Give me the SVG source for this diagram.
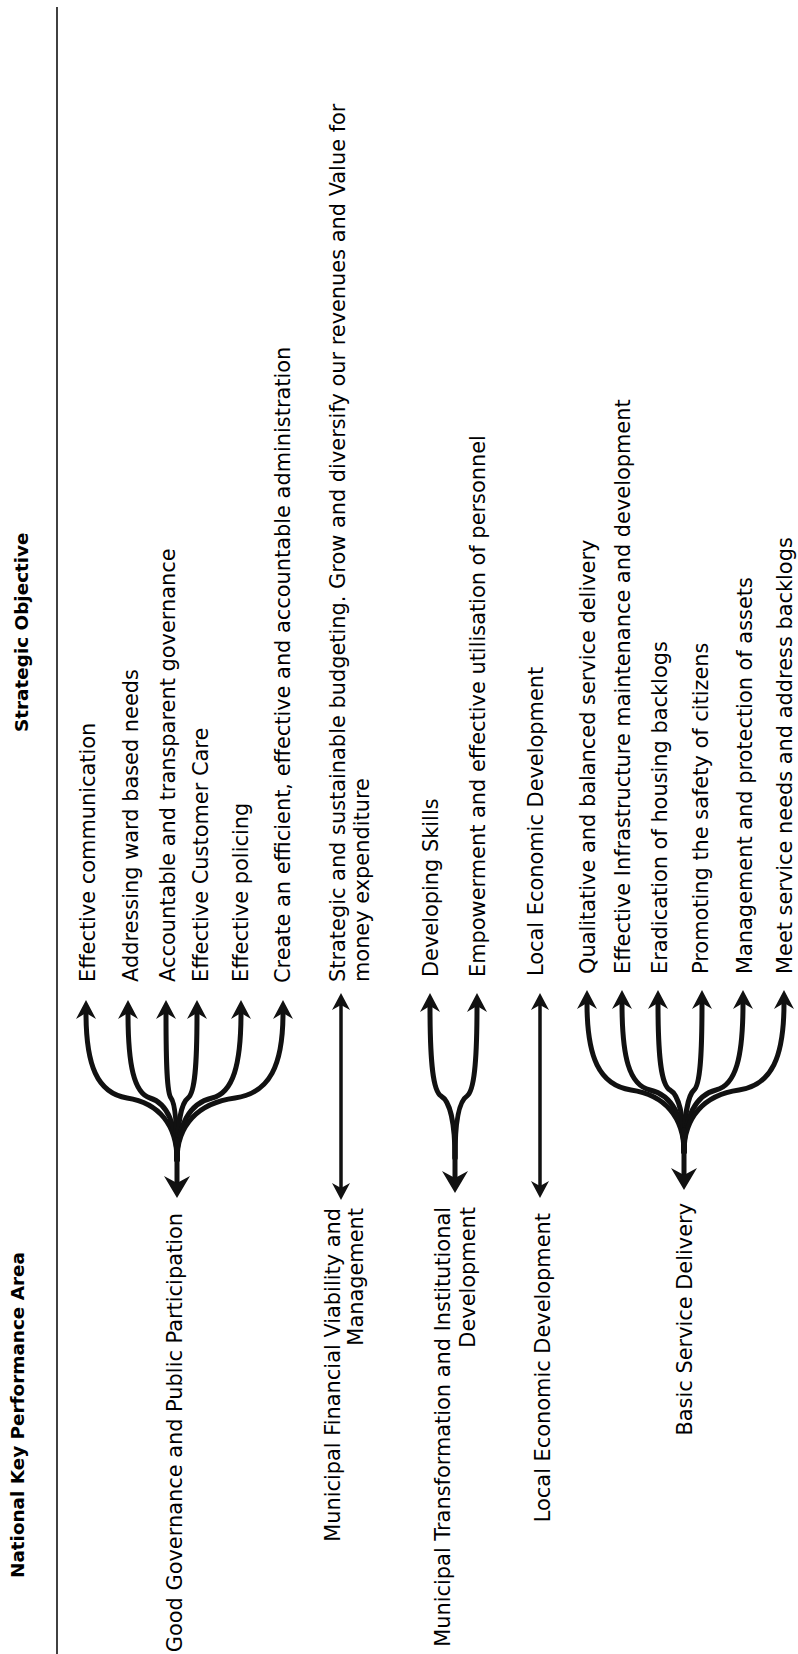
<svg xmlns="http://www.w3.org/2000/svg" width="798" height="1654" viewBox="0 0 798 1654">
<style>
  .hdr { font-family: "DejaVu Sans", Verdana, sans-serif; font-weight: bold; font-size: 18.4px; fill: #000; }
  .t { font-family: "DejaVu Sans", Verdana, sans-serif; font-size: 20.9px; fill: #000; }
  .fan { fill: none; stroke: #111; stroke-width: 5; stroke-linecap: round; }
  .single { fill: none; stroke: #111; stroke-width: 3.5; }
  .rule { stroke: #111; stroke-width: 1.6; }
</style>
<defs>
  <marker id="ah" markerUnits="userSpaceOnUse" markerWidth="20" markerHeight="22" viewBox="0 -11 20 22" refX="6" refY="0" orient="auto-start-reverse">
    <path d="M0,-10 L19,0 L0,10 L6,0 Z" fill="#111"/>
  </marker>
  <marker id="ahBig" markerUnits="userSpaceOnUse" markerWidth="24" markerHeight="28" viewBox="0 -14 24 28" refX="7" refY="0" orient="auto-start-reverse">
    <path d="M0,-13 L22,0 L0,13 L7,0 Z" fill="#111"/>
  </marker>
  <marker id="ahThin" markerUnits="userSpaceOnUse" markerWidth="18" markerHeight="20" viewBox="0 -10 18 20" refX="5" refY="0" orient="auto-start-reverse">
    <path d="M0,-9 L17,0 L0,9 L5,0 Z" fill="#111"/>
  </marker>
</defs>
<rect width="798" height="1654" fill="#fff"/>

<line class="rule" x1="57" y1="7" x2="57" y2="1654"/>

<g id="headers">
  <text class="hdr" transform="translate(24,1578) rotate(-90)">National Key Performance Area</text>
  <text class="hdr" transform="translate(28,732) rotate(-90)">Strategic Objective</text>
</g>

<g id="kpa-good-governance">
  <text class="t" text-anchor="end" transform="translate(182,1213) rotate(-90)">Good Governance and Public Participation</text>
</g>
<g id="kpa-financial-viability">
  <text class="t" text-anchor="end" transform="translate(340,1208) rotate(-90)">Municipal Financial Viability and</text>
  <text class="t" text-anchor="end" transform="translate(363,1208) rotate(-90)">Management</text>
</g>
<g id="kpa-transformation">
  <text class="t" text-anchor="end" transform="translate(450,1207) rotate(-90)">Municipal Transformation and Institutional</text>
  <text class="t" text-anchor="end" transform="translate(475,1207) rotate(-90)">Development</text>
</g>
<g id="kpa-led">
  <text class="t" text-anchor="end" transform="translate(550,1213) rotate(-90)">Local Economic Development</text>
</g>
<g id="kpa-basic-service">
  <text class="t" text-anchor="end" transform="translate(692,1203) rotate(-90)">Basic Service Delivery</text>
</g>

<g id="obj-communication"><text class="t" transform="translate(95,982) rotate(-90)">Effective communication</text></g>
<g id="obj-ward-needs"><text class="t" transform="translate(138,982) rotate(-90)">Addressing ward based needs</text></g>
<g id="obj-accountable"><text class="t" transform="translate(175,982) rotate(-90)">Accountable and transparent governance</text></g>
<g id="obj-customer-care"><text class="t" transform="translate(208,982) rotate(-90)">Effective Customer Care</text></g>
<g id="obj-policing"><text class="t" transform="translate(248,982) rotate(-90)">Effective policing</text></g>
<g id="obj-administration"><text class="t" transform="translate(290,983) rotate(-90)">Create an efficient, effective and accountable administration</text></g>
<g id="obj-budgeting">
  <text class="t" transform="translate(345,982) rotate(-90)">Strategic and sustainable budgeting. Grow and diversify our revenues and Value for</text>
  <text class="t" transform="translate(369,982) rotate(-90)">money expenditure</text>
</g>
<g id="obj-skills"><text class="t" transform="translate(438,977) rotate(-90)">Developing Skills</text></g>
<g id="obj-empowerment"><text class="t" transform="translate(485,977) rotate(-90)">Empowerment and effective utilisation of personnel</text></g>
<g id="obj-led"><text class="t" transform="translate(543,976) rotate(-90)">Local Economic Development</text></g>
<g id="obj-qualitative"><text class="t" transform="translate(595,974) rotate(-90)">Qualitative and balanced service delivery</text></g>
<g id="obj-infrastructure"><text class="t" transform="translate(630,974) rotate(-90)">Effective Infrastructure maintenance and development</text></g>
<g id="obj-housing"><text class="t" transform="translate(667,974) rotate(-90)">Eradication of housing backlogs</text></g>
<g id="obj-safety"><text class="t" transform="translate(708,974) rotate(-90)">Promoting the safety of citizens</text></g>
<g id="obj-assets"><text class="t" transform="translate(752,974) rotate(-90)">Management and protection of assets</text></g>
<g id="obj-backlogs"><text class="t" transform="translate(792,974) rotate(-90)">Meet service needs and address backlogs</text></g>

<g id="connectors">
  <!-- Group 1: Good Governance (cx=177, By=1095) -->
  <path class="fan" marker-start="url(#ah)" d="M86,1013 C86,1065 97,1093 127,1098 C159,1103 177,1125 177,1160"/>
  <path class="fan" marker-start="url(#ah)" d="M128,1013 C128,1065 134,1093 150,1098 C167,1103 177,1125 177,1160"/>
  <path class="fan" marker-start="url(#ah)" d="M166,1013 C166,1065 167,1093 171,1098 C175,1103 177,1125 177,1160"/>
  <path class="fan" marker-start="url(#ah)" d="M197,1013 C197,1065 195,1093 188,1098 C181,1103 177,1125 177,1160"/>
  <path class="fan" marker-start="url(#ah)" d="M241,1013 C241,1065 233,1093 212,1098 C190,1103 177,1125 177,1160"/>
  <path class="fan" marker-start="url(#ah)" d="M283,1013 C283,1065 270,1093 235,1098 C198,1103 177,1125 177,1160"/>
  <path class="fan" marker-end="url(#ahBig)" d="M177,1140 L177,1183"/>

  <!-- Municipal Financial Viability -->
  <path class="single" marker-start="url(#ahThin)" marker-end="url(#ahThin)" d="M341,1005 L341,1188"/>

  <!-- Group 3: Transformation (cx=455, By=1093) -->
  <path class="fan" marker-start="url(#ah)" d="M430,1006 C430,1063 433,1091 441,1096 C450,1101 455,1123 455,1158"/>
  <path class="fan" marker-start="url(#ah)" d="M477,1006 C477,1063 474,1091 467,1096 C459,1101 455,1123 455,1158"/>
  <path class="fan" marker-end="url(#ahBig)" d="M455,1135 L455,1178"/>

  <!-- Local Economic Development -->
  <path class="single" marker-start="url(#ahThin)" marker-end="url(#ahThin)" d="M540,1005 L540,1186"/>

  <!-- Group 5: Basic Service Delivery (cx=684, By=1087) -->
  <path class="fan" marker-start="url(#ah)" d="M587,1003 C587,1057 599,1085 631,1090 C665,1095 684,1117 684,1152"/>
  <path class="fan" marker-start="url(#ah)" d="M622,1003 C622,1057 629,1085 650,1090 C672,1095 684,1117 684,1152"/>
  <path class="fan" marker-start="url(#ah)" d="M658,1003 C658,1057 661,1085 670,1090 C679,1095 684,1117 684,1152"/>
  <path class="fan" marker-start="url(#ah)" d="M702,1003 C702,1057 700,1085 694,1090 C688,1095 684,1117 684,1152"/>
  <path class="fan" marker-start="url(#ah)" d="M743,1003 C743,1057 736,1085 716,1090 C696,1095 684,1117 684,1152"/>
  <path class="fan" marker-start="url(#ah)" d="M784,1003 C784,1057 772,1085 739,1090 C704,1095 684,1117 684,1152"/>
  <path class="fan" marker-end="url(#ahBig)" d="M684,1130 L684,1175"/>
</g>
</svg>
